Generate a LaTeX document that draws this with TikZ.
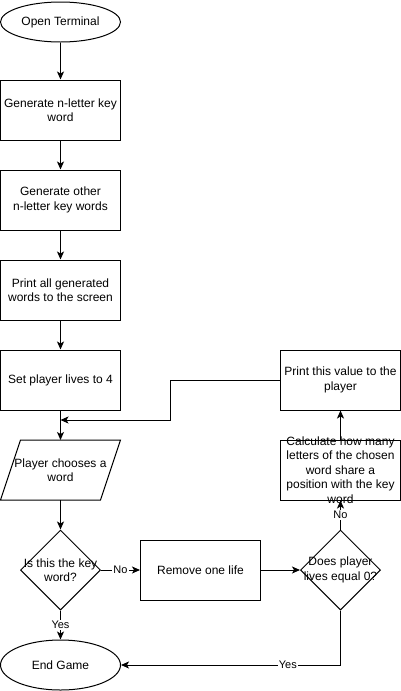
\documentclass[tikz,border=0pt]{standalone}
\usepackage{fontspec}
\setmainfont{Liberation Sans}
\usetikzlibrary{shapes.geometric}
\usetikzlibrary{arrows.meta}

\begin{document}
\begin{tikzpicture}[x=1pt,y=-1pt,
	every node/.style={font=\fontsize{12}{14.5}\selectfont,align=center},
	term/.style={draw,ellipse,line width=1pt,minimum width=120pt,minimum height=40pt,inner sep=0pt},
	box/.style={draw,rectangle,line width=1pt,minimum width=120pt,minimum height=60pt,inner sep=0pt},
	decide/.style={draw,diamond,line width=1pt,minimum width=80pt,minimum height=80pt,inner sep=0pt},
	flow/.style={line width=1pt,-{Stealth[length=8pt,width=7pt,inset=2pt]}},
	lbl/.style={fill=white,inner sep=1pt,font=\fontsize{11}{13}\selectfont}]
	\useasboundingbox (0,0) rectangle (401,691);
	% main column
	\node[term] (open) at (60.5,22) {Open Terminal};
	\node[box] (gen1) at (60.5,110) {Generate n-letter key\\word};
	\node[box] (gen2) at (60.5,200) {Generate other\\n-letter key words};
	\node[box] (print) at (60.5,290) {Print all generated\\words to the screen};
	\node[box] (lives) at (60.5,380) {Set player lives to 4};
	% input parallelogram
	\draw[line width=1pt] (20.5,440) coordinate (choosetop) -- (120.5,440) -- (100.5,500) -- (0.5,500) coordinate (choosebot) -- cycle;
	\coordinate (intop) at (60.5,440);
	\coordinate (outbot) at (60.5,500);
	\node (choose) at (60.5,470) {Player chooses a\\word};
	\node[decide,label={center:Is this the key\\word?}] (iskey) at (60.5,570) {};
	\node[term,minimum height=50pt] (end) at (60.5,665) {End Game};
	\coordinate (join) at (60.5,420);
	% right side
	\node[box] (remove) at (200.5,570) {Remove one life};
	\node[decide,label={center:Does player\\lives equal 0?}] (zero) at (340.5,570) {};
	\node[box,label={center:Calculate how many\\letters of the chosen\\word share a\\position with the key\\word}] (calc) at (340.5,470) {};
	\node[box] (show) at (340.5,380) {Print this value to the\\player};
	% connectors
	\draw[flow] (open) -- (gen1);
	\draw[flow] (gen1) -- (gen2);
	\draw[flow] (gen2) -- (print);
	\draw[flow] (print) -- (lives);
	\draw[flow] (lives) -- (intop);
	\draw[flow] (outbot) -- (iskey);
	\draw[flow] (iskey) -- node[lbl] {No} (remove);
	\draw[flow] (iskey) -- node[lbl] {Yes} (end);
	\draw[flow] (remove) -- (zero);
	\draw[flow] (zero) -- node[lbl] {No} (calc);
	\draw[flow] (calc) -- (show);
	\draw[flow] (show.west) -- ++(-110,0) |- (join);
	\draw[flow] (zero.south) |- node[lbl,pos=0.62] {Yes} (end.east);
\end{tikzpicture}
\end{document}
